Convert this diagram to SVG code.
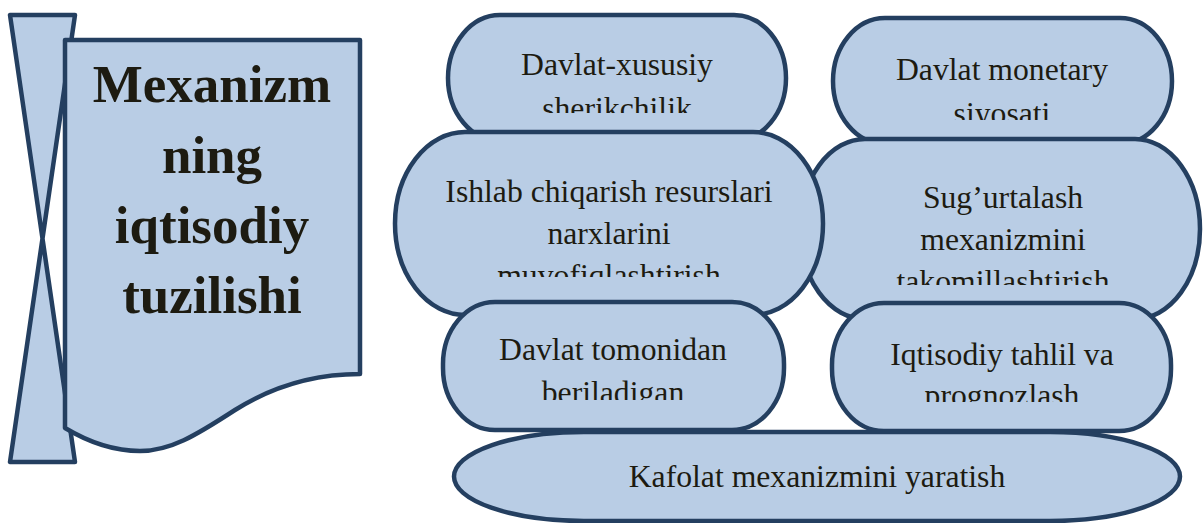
<svg xmlns="http://www.w3.org/2000/svg" width="1203" height="523" viewBox="0 0 1203 523">
<style>
.shape{fill:#B9CDE5;stroke:#243F60;stroke-width:4.5;stroke-linejoin:round}
.t{font-family:"Liberation Serif","Times New Roman",serif;font-size:31.7px;fill:#1d1b11;text-anchor:middle}
.title{font-family:"Liberation Serif","Times New Roman",serif;font-size:53px;font-weight:bold;fill:#1d1b11;text-anchor:middle}
</style>
<defs>
<clipPath id="c1"><rect x="440" y="0" width="360" height="113"/></clipPath>
<clipPath id="c2"><rect x="830" y="0" width="350" height="120"/></clipPath>
<clipPath id="c3"><rect x="390" y="120" width="440" height="157"/></clipPath>
<clipPath id="c4"><rect x="800" y="130" width="403" height="155"/></clipPath>
<clipPath id="c5"><rect x="440" y="300" width="350" height="100"/></clipPath>
<clipPath id="c6"><rect x="830" y="300" width="350" height="102"/></clipPath>
</defs>
<g id="banner">
<polygon class="shape" points="10,15 75,15 10,462 75,462"/>
<path class="shape" d="M65,40 H360 V374 C310,374 270,388 235,410 C195,436 170,451 140,451 C110,451 85,440 65,428 Z"/>
<text class="title" x="212" y="102">Mexanizm</text>
<text class="title" x="212" y="173">ning</text>
<text class="title" x="212" y="243">iqtisodiy</text>
<text class="title" x="212" y="313">tuzilishi</text>
</g>
<g id="connectors"/>
<g id="n1">
<rect class="shape" x="448" y="15" width="338" height="126" rx="52" ry="63"/>
<g clip-path="url(#c1)">
<text class="t" x="617" y="75">Davlat-xususiy</text>
<text class="t" x="617" y="119">sherikchilik</text>
</g>
</g>
<g id="n2">
<rect class="shape" x="833" y="18" width="339" height="126" rx="52" ry="63"/>
<g clip-path="url(#c2)">
<text class="t" x="1002" y="80">Davlat monetary</text>
<text class="t" x="1002" y="124">siyosati</text>
</g>
</g>
<g id="n4">
<rect class="shape" x="800" y="139" width="400" height="180" rx="65" ry="90"/>
<g clip-path="url(#c4)">
<text class="t" x="1003" y="208">Sug’urtalash</text>
<text class="t" x="1003" y="250">mexanizmini</text>
<text class="t" x="1003" y="292">takomillashtirish</text>
</g>
</g>
<g id="n3">
<rect class="shape" x="395" y="132" width="428" height="183" rx="70" ry="91.5"/>
<g clip-path="url(#c3)">
<text class="t" x="609" y="202">Ishlab chiqarish resurslari</text>
<text class="t" x="609" y="244">narxlarini</text>
<text class="t" x="609" y="286">muvofiqlashtirish</text>
</g>
</g>
<g id="n5">
<rect class="shape" x="443" y="302" width="341" height="128" rx="52" ry="62"/>
<g clip-path="url(#c5)">
<text class="t" x="613" y="360">Davlat tomonidan</text>
<text class="t" x="613" y="403">beriladigan</text>
</g>
</g>
<g id="n6">
<rect class="shape" x="832" y="303" width="339" height="128" rx="52" ry="62"/>
<g clip-path="url(#c6)">
<text class="t" x="1002" y="365">Iqtisodiy tahlil va</text>
<text class="t" x="1002" y="406">prognozlash</text>
</g>
</g>
<g id="n7">
<rect class="shape" x="454" y="432" width="726" height="89" rx="130" ry="44.5"/>
<text class="t" x="817" y="487">Kafolat mexanizmini yaratish</text>
</g>
</svg>
